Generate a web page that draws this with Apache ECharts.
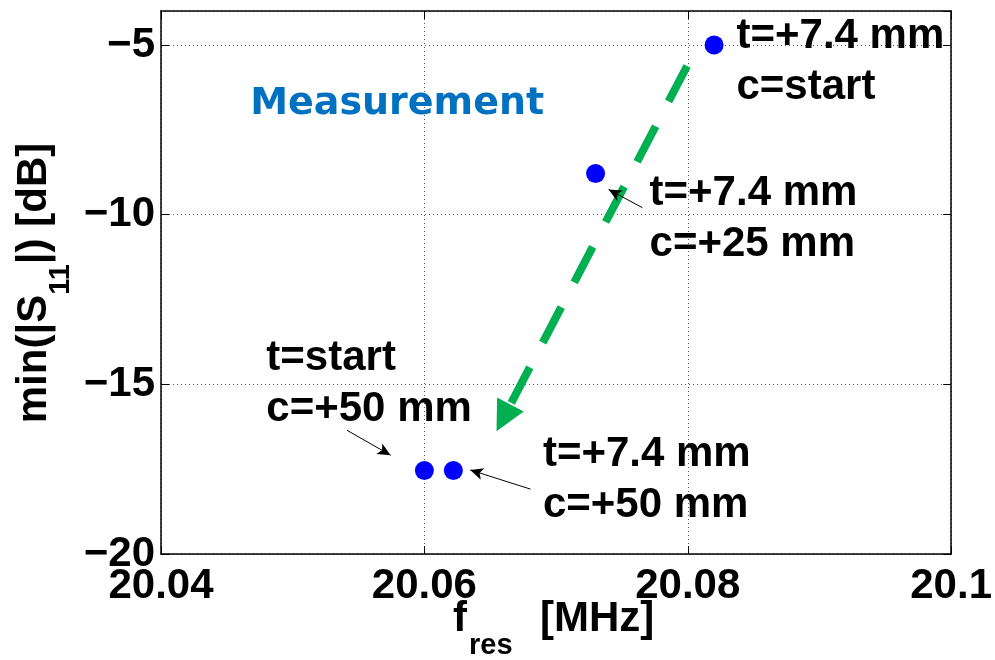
<!DOCTYPE html>
<html>
<head>
<meta charset="utf-8">
<title>Measurement</title>
<script src="https://cdn.jsdelivr.net/npm/echarts@6/dist/echarts.min.js"></script>
<style>
    html, body { margin: 0; padding: 0; background: #fff; }
    #chart { width: 995px; height: 660px; }
</style>
</head>
<body>
<div id="chart"></div>
<script>
    // measured resonances
    var freq = [20.0820, 20.0730, 20.0600, 20.0622];
    var s11 = [-5.0, -8.79, -17.54, -17.54];

    // axes
    var xTicks = [20.04, 20.06, 20.08, 20.1];
    var yTicks = [-20, -15, -10, -5];
    var yTop = -4;

    // text blocks: left edge / baseline of the first line
    var noteX = [20.0837, 20.0771, 20.0480, 20.0690];
    var noteY = [-5.18, -9.79, -14.68, -17.50];
    var noteLine1 = ['t=+7.4 mm', 't=+7.4 mm', 't=start', 't=+7.4 mm'];
    var noteLine2 = ['c=start', 'c=+25 mm', 'c=+50 mm', 'c=+50 mm'];

    // small black pointers (from -> tip)
    var arrowFromX = [20.07655, 20.05412, 20.06806];
    var arrowFromY = [-9.794, -16.353, -18.088];
    var arrowToX = [20.07359, 20.05783, 20.06305];
    var arrowToY = [-9.176, -17.176, -17.471];

    // green trend arrow (from -> tip)
    var trendFrom = [20.07995, -5.62];
    var trendTo = [20.06548, -16.38];

    var measureLabel = 'Measurement';
    var measureAt = [20.04677, -7.15];

    var FONT = '"Liberation Sans", Arial, Helvetica, sans-serif';
    var FS = 42;

    var myChart = echarts.init(document.getElementById('chart'));

    function fmtX(v) { return String(+v.toFixed(2)); }
    function fmtY(v) { return v < 0 ? '\u2212' + Math.abs(v) : String(v); }

    var gridLine = { show: true, lineStyle: { color: '#555', width: 1, type: [1, 3] } };
    var boxLine = { show: true, lineStyle: { color: '#000', width: 1.5 } };
    var inTick = { show: true, inside: true, length: 8, lineStyle: { color: '#000', width: 1 } };

    var points = {
        id: 'points', name: 'min|S11|', type: 'scatter', z: 4,
        symbol: 'circle', symbolSize: 19,
        itemStyle: { color: '#0000ff', opacity: 1 },
        data: freq.map(function (f, k) { return [f, s11[k]]; })
    };

    myChart.setOption({
        animation: false,
        backgroundColor: '#fff',
        grid: { left: 161, top: 11, width: 792, height: 543 },
        xAxis: [{
            type: 'value', position: 'bottom',
            min: xTicks[0], max: xTicks[xTicks.length - 1], interval: 0.02,
            axisLine: boxLine, axisTick: inTick, splitLine: gridLine,
            axisLabel: { color: '#000', fontSize: FS, fontWeight: 'bold', fontFamily: FONT, margin: 11, formatter: fmtX }
        }, {
            type: 'value', position: 'top',
            min: xTicks[0], max: xTicks[xTicks.length - 1], interval: 0.02,
            axisLine: boxLine, axisTick: inTick, splitLine: { show: false }, axisLabel: { show: false }
        }],
        yAxis: [{
            type: 'value', position: 'left',
            min: yTicks[0], max: yTop, interval: 5,
            axisLine: boxLine, axisTick: inTick, splitLine: gridLine,
            axisLabel: { color: '#000', fontSize: FS, fontWeight: 'bold', fontFamily: FONT, margin: 6, formatter: fmtY }
        }, {
            type: 'value', position: 'right',
            min: yTicks[0], max: yTop, interval: 5,
            axisLine: boxLine, axisTick: inTick, splitLine: { show: false }, axisLabel: { show: false }
        }],
        series: [points]
    });

    // markLine symbols are centred on the end point: pull the end back so the tip lands on it
    function pullBack(from, tip, px) {
        var a = myChart.convertToPixel({ gridIndex: 0 }, from);
        var b = myChart.convertToPixel({ gridIndex: 0 }, tip);
        var dx = b[0] - a[0], dy = b[1] - a[1];
        var len = Math.sqrt(dx * dx + dy * dy);
        return myChart.convertFromPixel({ gridIndex: 0 }, [b[0] - dx / len * px, b[1] - dy / len * px]);
    }

    var pointerLines = [];
    for (var i = 0; i < arrowFromX.length; i++) {
        var f0 = [arrowFromX[i], arrowFromY[i]];
        pointerLines.push([
            { coord: f0, symbol: 'none' },
            { coord: pullBack(f0, [arrowToX[i], arrowToY[i]], 6), symbol: 'arrow', symbolSize: [9, 13] }
        ]);
    }

    // text drawn on top, placed through the axes
    var ctx = document.createElement('canvas').getContext('2d');
    function textW(t, size) {
        ctx.font = 'bold ' + size + 'px ' + FONT;
        return ctx.measureText(t).width;
    }
    // place by baseline: zrender draws with 'middle'
    function txt(t, x, baseY, size) {
        return {
            type: 'text', z: 100, silent: true,
            style: {
                text: t, x: x, y: baseY - 0.3465 * size,
                font: 'bold ' + size + 'px ' + FONT,
                fill: '#000', align: 'left', verticalAlign: 'middle'
            }
        };
    }

    var g = [];
    for (var n = 0; n < noteX.length; n++) {
        var p = myChart.convertToPixel({ gridIndex: 0 }, [noteX[n], noteY[n]]);
        g.push(txt(noteLine1[n], p[0], p[1], FS));
        g.push(txt(noteLine2[n], p[0], p[1] + 51, FS));
    }

    var mp = myChart.convertToPixel({ gridIndex: 0 }, measureAt);
    g.push({
        type: 'text', z: 100, silent: true,
        style: {
            text: measureLabel, x: mp[0], y: mp[1] - 0.35 * 38,
            font: 'bold 38px "Comic Sans MS", "DejaVu Sans", sans-serif',
            fill: '#0070c0', align: 'left', verticalAlign: 'middle'
        }
    });

    // x axis title  f_res [MHz]
    g.push(txt('f', 453, 634, FS));
    g.push(txt('res', 469, 656, 29));
    g.push(txt('[MHz]', 540, 634, FS));

    // y axis title  min(|S_11|) [dB], rotated
    var a1 = 'min(|S', a2 = '11', a3 = '|) [dB]';
    var w1 = textW(a1, FS), w2 = textW(a2, 29), w3 = textW(a3, FS);
    var x0 = -(w1 + w2 + w3) / 2;
    g.push({
        type: 'group', x: 49, y: 283, rotation: Math.PI / 2,
        children: [
            txt(a1, x0, 0, FS),
            txt(a2, x0 + w1, 22, 29),
            txt(a3, x0 + w1 + w2, 0, FS)
        ]
    });

    myChart.setOption({
        graphic: g,
        series: [points, {
            id: 'trend', type: 'line', data: [], z: 1,
            markLine: {
                silent: true, animation: false, z: 1,
                label: { show: false },
                lineStyle: { color: '#00b050', width: 8, type: [40, 28], cap: 'butt' },
                data: [[
                    { coord: trendFrom, symbol: 'none' },
                    { coord: pullBack(trendFrom, trendTo, 15), symbol: 'triangle', symbolSize: [30, 30] }
                ]]
            }
        }, {
            id: 'pointers', type: 'line', data: [], z: 3,
            markLine: {
                silent: true, animation: false, z: 3,
                label: { show: false },
                lineStyle: { color: '#000', width: 1, type: 'solid' },
                data: pointerLines
            }
        }]
    });
</script>
</body>
</html>
